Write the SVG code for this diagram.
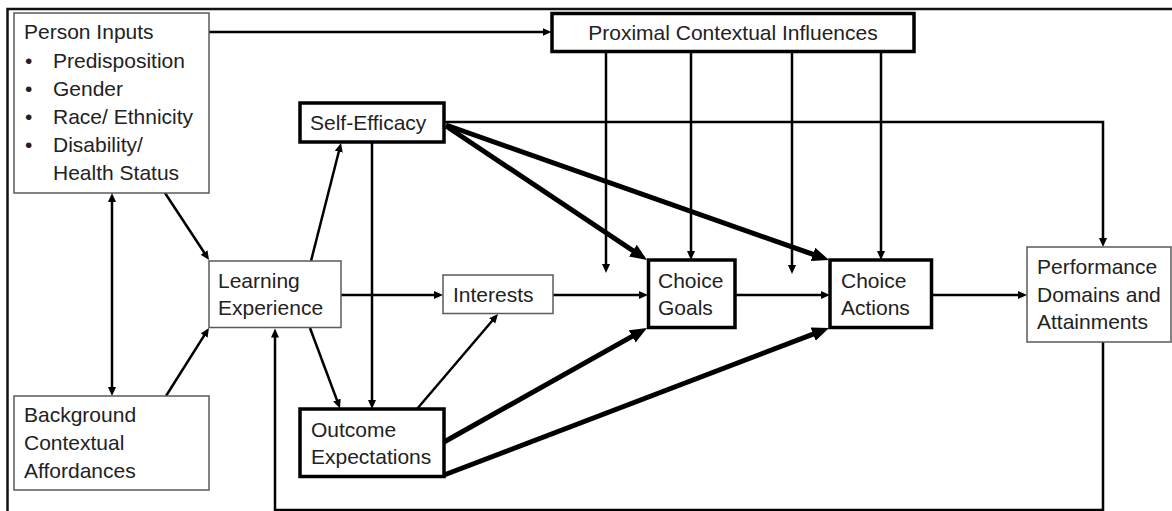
<svg xmlns="http://www.w3.org/2000/svg" width="1172" height="511" viewBox="0 0 1172 511">
  <style>
    .lbl { font-family: "Liberation Sans", Arial, sans-serif; font-size: 21px; fill: #222; }
    .mid { text-anchor: middle; }
    .box-thin { fill: #fff; stroke: #5a5a5a; stroke-width: 1.5; }
    .box-bold { fill: #fff; stroke: #000; stroke-width: 3.5; }
    .frame { fill: none; stroke: #111; stroke-width: 2.5; }
    .ln { fill: none; stroke: #000; stroke-width: 2.5; }
    .ln-bold { fill: none; stroke: #000; stroke-width: 5; }
    .arr { marker-end: url(#head); }
    .arr-bold { marker-end: url(#head-bold); }
    .arr-both { marker-start: url(#head); marker-end: url(#head); }
  </style>
  <defs>
    <marker id="head" markerUnits="userSpaceOnUse" markerWidth="10" markerHeight="9" refX="4" refY="4" orient="auto-start-reverse">
      <path d="M0,0 L9,4 L0,8 Z" fill="#000"/>
    </marker>
    <marker id="head-bold" markerUnits="userSpaceOnUse" markerWidth="18" markerHeight="15" refX="7" refY="7" orient="auto">
      <path d="M0,0 L17,7 L0,14 Z" fill="#000"/>
    </marker>
  </defs>

  <rect width="1172" height="511" fill="#fff"/>
  <!-- outer border -->
  <path class="frame" d="M7.5,511 V9 H1172"/>

  <!-- connectors -->
  <g id="connectors">
    <path class="ln arr" d="M209,32 H546.5"/>
    <path class="ln arr" d="M606,52 V268"/>
    <path class="ln arr" d="M691,52 V255"/>
    <path class="ln arr" d="M792,52 V269"/>
    <path class="ln arr" d="M881,52 V255"/>
    <path class="ln arr" d="M444,122 H1103 V242"/>
    <path class="ln arr-both" d="M112,198 V391"/>
    <path class="ln arr" d="M165,193 L206.3,255.8"/>
    <path class="ln arr" d="M166,396 L206.3,332.2"/>
    <path class="ln arr" d="M311,261 L339.8,147.8"/>
    <path class="ln arr" d="M341,295 H438"/>
    <path class="ln arr" d="M553,295 H643"/>
    <path class="ln arr" d="M372,142 V404"/>
    <path class="ln arr" d="M310,328 L338.3,403.8"/>
    <path class="ln arr" d="M417,409 L494.8,317.8"/>
    <path class="ln arr" d="M735,295 H825"/>
    <path class="ln arr" d="M932,295 H1022"/>
    <path class="ln arr" d="M1103,342 V510 H275 V333.5"/>
    <path class="ln-bold arr-bold" d="M446,126 L638.7,254.5"/>
    <path class="ln-bold arr-bold" d="M446,125 L819.6,256.7"/>
    <path class="ln-bold arr-bold" d="M444,442 L638.3,332.9"/>
    <path class="ln-bold arr-bold" d="M444,475 L819.7,331.6"/>
  </g>

  <!-- nodes -->
  <g id="person-inputs">
    <rect class="box-thin" x="14" y="13" width="195" height="180"/>
    <text class="lbl" x="24" y="39">Person Inputs</text>
    <text class="lbl" x="25" y="67.5">•</text>
    <text class="lbl" x="53" y="67.5">Predisposition</text>
    <text class="lbl" x="25" y="95.5">•</text>
    <text class="lbl" x="53" y="95.5">Gender</text>
    <text class="lbl" x="25" y="123.5">•</text>
    <text class="lbl" x="53" y="123.5">Race/ Ethnicity</text>
    <text class="lbl" x="25" y="151.5">•</text>
    <text class="lbl" x="53" y="151.5">Disability/</text>
    <text class="lbl" x="53" y="179.5">Health Status</text>
  </g>

  <g id="background-affordances">
    <rect class="box-thin" x="14" y="396" width="195" height="94"/>
    <text class="lbl" x="24" y="421.5">Background</text>
    <text class="lbl" x="24" y="449.5">Contextual</text>
    <text class="lbl" x="24" y="477.5">Affordances</text>
  </g>

  <g id="proximal-influences">
    <rect class="box-bold" x="552" y="13.5" width="362" height="38"/>
    <text class="lbl mid" x="733" y="40">Proximal Contextual Influences</text>
  </g>

  <g id="self-efficacy">
    <rect class="box-bold" x="300" y="103" width="144" height="39"/>
    <text class="lbl" x="310" y="130">Self-Efficacy</text>
  </g>

  <g id="learning-experience">
    <rect class="box-thin" x="209" y="261" width="132" height="66.5"/>
    <text class="lbl" x="218" y="288">Learning</text>
    <text class="lbl" x="218" y="315">Experience</text>
  </g>

  <g id="interests">
    <rect class="box-thin" x="443" y="275" width="110" height="38.5"/>
    <text class="lbl" x="453" y="301.5">Interests</text>
  </g>

  <g id="outcome-expectations">
    <rect class="box-bold" x="300" y="409" width="144" height="67.5"/>
    <text class="lbl" x="311" y="436.5">Outcome</text>
    <text class="lbl" x="311" y="464">Expectations</text>
  </g>

  <g id="choice-goals">
    <rect class="box-bold" x="648.5" y="260" width="86.5" height="67.5"/>
    <text class="lbl" x="658" y="288">Choice</text>
    <text class="lbl" x="658" y="315">Goals</text>
  </g>

  <g id="choice-actions">
    <rect class="box-bold" x="830" y="260" width="101.5" height="67.5"/>
    <text class="lbl" x="841" y="288">Choice</text>
    <text class="lbl" x="841" y="315">Actions</text>
  </g>

  <g id="performance">
    <rect class="box-thin" x="1027" y="247" width="144" height="95"/>
    <text class="lbl" x="1037" y="274">Performance</text>
    <text class="lbl" x="1037" y="301.5">Domains and</text>
    <text class="lbl" x="1037" y="329">Attainments</text>
  </g>
</svg>
